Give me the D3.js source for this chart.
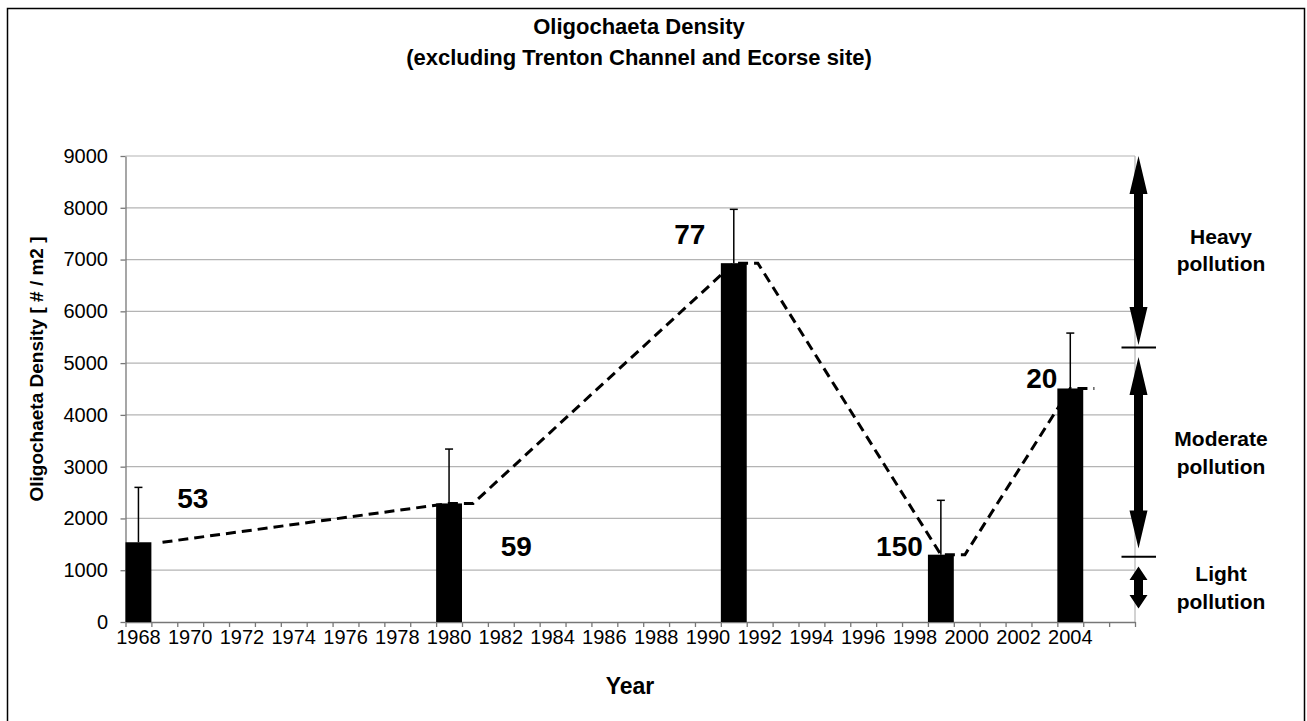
<!DOCTYPE html>
<html>
<head>
<meta charset="utf-8">
<script src="https://cdn.jsdelivr.net/npm/d3@7"></script>
<style>
  body { margin: 0; background: #fff; }
  text { font-family: "Liberation Sans", Arial, sans-serif; fill: #000; }
</style>
</head>
<body>
<svg id="chart" width="1307" height="721"></svg>
<script>
// bar data
var barYears = [1968, 1980, 1991, 1999, 2004];
var barValues = [1540, 2290, 6930, 1300, 4510];
var errorTops = [2600, 3340, 7970, 2350, 5580];

// sample size labels
var sampleLabels = ["53", "59", "77", "150", "20"];
var labelYears = [1970.1, 1982.6, 1989.3, 1997.4, 2002.9];
var labelValues = [2200, 1270, 7300, 1270, 4520];

// dashed trend line
var trendYears = [1968.93, 1980, 1980.93, 1991, 1991.93, 1999, 1999.93, 2004, 2004.93];
var trendValues = [1540, 2290, 2290, 6930, 6930, 1300, 1300, 4510, 4510];

// axes
var yTicks = [0, 1000, 2000, 3000, 4000, 5000, 6000, 7000, 8000, 9000];
var xTickLabels = ["1968", "1970", "1972", "1974", "1976", "1978", "1980", "1982", "1984", "1986",
  "1988", "1990", "1992", "1994", "1996", "1998", "2000", "2002", "2004"];
var firstYear = 1968, lastYear = 2006;

// pollution classes on the right
var classNames = [["Heavy", "pollution"], ["Moderate", "pollution"], ["Light", "pollution"]];
var classTop = [9000, 5120, 1070];
var classBottom = [5350, 1420, 260];
var classLimits = [5300, 1260];

var svg = d3.select("#chart");

/* Scales */
var x = d3.scaleBand()
  .domain(d3.range(firstYear, lastYear + 1))
  .range([125.5, 1135])
  .padding(0);
var bw = x.bandwidth();

var xYear = d3.scaleLinear()
  .domain([firstYear, lastYear])
  .range([x(firstYear) + bw / 2, x(lastYear) + bw / 2]);

var xEdge = d3.scaleLinear()
  .domain([0, x.domain().length])
  .range(x.range());

var y = d3.scaleLinear()
  .domain([0, 9000])
  .range([622, 156]);

/* Outer frame */
svg.append("rect")
  .attr("x", 7.5).attr("y", 8.5)
  .attr("width", 1297).attr("height", 730)
  .attr("fill", "none")
  .attr("stroke", "#000")
  .attr("stroke-width", 1.5);

/* Title */
var title = svg.append("text")
  .attr("text-anchor", "middle")
  .style("font-weight", "bold")
  .style("font-size", "22px");
title.append("tspan").attr("x", 639).attr("y", 34).text("Oligochaeta Density");
title.append("tspan").attr("x", 639).attr("y", 65).text("(excluding Trenton Channel and Ecorse site)");

/* Grid */
svg.append("g")
  .selectAll("line")
  .data(yTicks.filter(d => d > 0))
  .enter().append("line")
  .attr("x1", x.range()[0]).attr("x2", x.range()[1])
  .attr("y1", d => y(d)).attr("y2", d => y(d))
  .attr("stroke", "#b4b4b4")
  .attr("stroke-width", 1.2);

svg.append("line")
  .attr("x1", x.range()[1]).attr("x2", x.range()[1])
  .attr("y1", y(9000)).attr("y2", y(0))
  .attr("stroke", "#b4b4b4")
  .attr("stroke-width", 1.2);

/* Y axis */
var yAxis = svg.append("g")
  .attr("transform", "translate(" + x.range()[0] + ",0)")
  .call(d3.axisLeft(y).tickValues(yTicks).tickFormat(d3.format("d"))
    .tickSize(5).tickSizeOuter(0).tickPadding(12.5));
yAxis.selectAll("text").style("font-size", "20px");
yAxis.selectAll("line, path").attr("stroke", "#777").attr("stroke-width", 1.3);

/* X axis: boundary ticks + labels */
var xTickAxis = svg.append("g")
  .attr("transform", "translate(0," + y(0) + ")")
  .call(d3.axisBottom(xEdge).tickValues(d3.range(x.domain().length + 1))
    .tickSize(5).tickSizeOuter(0).tickFormat(""));
xTickAxis.selectAll("line, path").attr("stroke", "#777").attr("stroke-width", 1.3);

var xLabelAxis = svg.append("g")
  .attr("transform", "translate(0," + y(0) + ")")
  .call(d3.axisBottom(x).tickValues(xTickLabels.map(Number)).tickSize(0).tickPadding(8));
xLabelAxis.select(".domain").remove();
xLabelAxis.selectAll("text").style("font-size", "20px");

/* Axis titles */
svg.append("text")
  .attr("x", 630).attr("y", 694)
  .attr("text-anchor", "middle")
  .style("font-weight", "bold")
  .style("font-size", "23px")
  .text("Year");

svg.append("text")
  .attr("transform", "translate(43,369) rotate(-90)")
  .attr("text-anchor", "middle")
  .style("font-weight", "bold")
  .style("font-size", "19px")
  .text("Oligochaeta Density [ # / m2 ]");

/* Bars */
var bars = barYears.map((d, i) => ({ year: d, value: barValues[i], err: errorTops[i] }));

svg.append("g")
  .selectAll("rect")
  .data(bars)
  .enter().append("rect")
  .attr("x", d => x(d.year))
  .attr("width", bw)
  .attr("y", d => y(d.value))
  .attr("height", d => y(0) - y(d.value))
  .attr("fill", "#000");

/* Error bars */
var err = svg.append("g").attr("stroke", "#000").attr("stroke-width", 1.5);
err.selectAll(".stem")
  .data(bars)
  .enter().append("line")
  .attr("x1", d => x(d.year) + bw / 2).attr("x2", d => x(d.year) + bw / 2)
  .attr("y1", d => y(d.value)).attr("y2", d => y(d.err));
err.selectAll(".cap")
  .data(bars)
  .enter().append("line")
  .attr("x1", d => x(d.year) + bw / 2 - 4).attr("x2", d => x(d.year) + bw / 2 + 4)
  .attr("y1", d => y(d.err)).attr("y2", d => y(d.err));

/* Dashed line */
var trend = trendYears.map((d, i) => ({ year: d, value: trendValues[i] }));
var line = d3.line()
  .x(d => xYear(d.year))
  .y(d => y(d.value));

svg.append("path")
  .attr("d", line(trend))
  .attr("fill", "none")
  .attr("stroke", "#000")
  .attr("stroke-width", 3)
  .attr("stroke-dasharray", "10,6");

/* Sample size labels */
svg.append("g")
  .selectAll("text")
  .data(sampleLabels)
  .enter().append("text")
  .attr("x", (d, i) => xYear(labelYears[i]))
  .attr("y", (d, i) => y(labelValues[i]))
  .attr("text-anchor", "middle")
  .style("font-weight", "bold")
  .style("font-size", "28px")
  .text(d => d);

/* Pollution arrows */
var arrowX = 1138.5;
function arrowPath(cx, y0, y1, head, hw, sw) {
  var p = d3.path();
  p.moveTo(cx, y0);
  p.lineTo(cx + hw, y0 + head);
  p.lineTo(cx + sw, y0 + head);
  p.lineTo(cx + sw, y1 - head);
  p.lineTo(cx + hw, y1 - head);
  p.lineTo(cx, y1);
  p.lineTo(cx - hw, y1 - head);
  p.lineTo(cx - sw, y1 - head);
  p.lineTo(cx - sw, y0 + head);
  p.lineTo(cx - hw, y0 + head);
  p.closePath();
  return p.toString();
}

var classes = classNames.map((d, i) => ({ name: d, top: classTop[i], bottom: classBottom[i] }));

svg.append("g")
  .selectAll("path")
  .data(classes)
  .enter().append("path")
  .attr("d", d => {
    var y0 = y(d.top), y1 = y(d.bottom);
    var head = Math.min(38, (y1 - y0) * 0.32);
    return arrowPath(arrowX, y0, y1, head, 9, 4.5);
  })
  .attr("fill", "#000");

svg.append("g")
  .selectAll("line")
  .data(classLimits)
  .enter().append("line")
  .attr("x1", 1121.5).attr("x2", 1156)
  .attr("y1", d => y(d)).attr("y2", d => y(d))
  .attr("stroke", "#000")
  .attr("stroke-width", 2);

var classText = svg.append("g")
  .selectAll("text")
  .data(classes)
  .enter().append("text")
  .attr("text-anchor", "middle")
  .style("font-weight", "bold")
  .style("font-size", "21px");
classText.append("tspan")
  .attr("x", 1221)
  .attr("y", d => (y(d.top) + y(d.bottom)) / 2 - 6.5)
  .text(d => d.name[0]);
classText.append("tspan")
  .attr("x", 1221)
  .attr("y", d => (y(d.top) + y(d.bottom)) / 2 + 21)
  .text(d => d.name[1]);
</script>
</body>
</html>
